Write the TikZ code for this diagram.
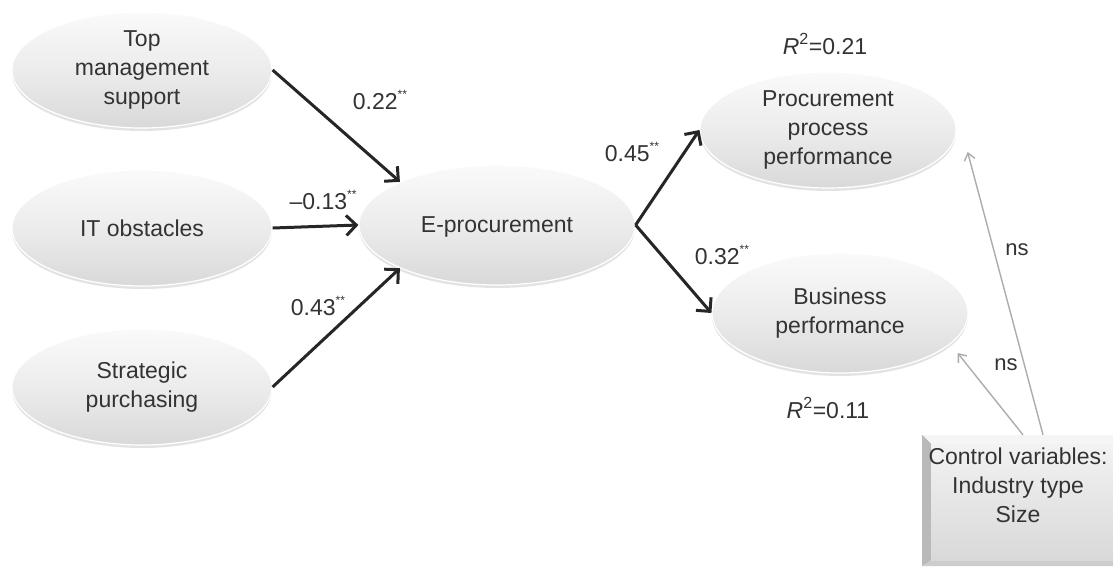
\documentclass[tikz,border=0pt]{standalone}
\usepackage{fontspec}
\setmainfont{Liberation Sans}
\usetikzlibrary{shapes.geometric,arrows.meta,calc,shadows}
\definecolor{txt}{HTML}{333333}
\newcommand{\stars}{\raisebox{0.5em}{\fontsize{12}{12}\selectfont **}}
\tikzset{
  oval/.style={ellipse, inner sep=0pt, align=center, text=txt,
    font=\fontsize{23}{29}\selectfont,
    top color=gray!4, bottom color=gray!30, middle color=gray!15,
    draw=white, line width=1.2pt,
    drop shadow={opacity=0.22, shadow xshift=0pt, shadow yshift=-3pt}},
  lab/.style={inner sep=0pt, text=txt, font=\fontsize{23}{28}\selectfont},
  main/.style={line width=3pt, black!85, -{Straight Barb[length=10pt,width=20pt]}},
  thin/.style={line width=1.4pt, gray!65, -{Straight Barb[length=7pt,width=11pt]}},
}
\begin{document}
\begin{tikzpicture}[x=1pt,y=-1pt]
\useasboundingbox (0,0) rectangle (1113,567);
\fill[white] (0,0) rectangle (1113,567);

% ellipses
\node[oval, minimum width=260pt, minimum height=116pt] (top) at (142,70) {Top\\management\\support};
\node[oval, minimum width=260pt, minimum height=116pt] (it) at (142,228) {IT obstacles};
\node[oval, minimum width=260pt, minimum height=116pt] (sp) at (142,387) {Strategic\\purchasing};
\node[oval, minimum width=276pt, minimum height=120pt, text depth=0pt] (ep) at (497,225) {E-procurement};
\node[oval, minimum width=256pt, minimum height=116pt] (ppp) at (828,130) {Procurement\\process\\performance};
\node[oval, minimum width=256pt, minimum height=120pt] (bp) at (840,313) {Business\\performance};

% control box
\node[rectangle, minimum width=204pt, minimum height=131pt, inner sep=0pt,
  path picture={
    \coordinate (nw) at (path picture bounding box.north west);
    \coordinate (ne) at (path picture bounding box.north east);
    \coordinate (sw) at (path picture bounding box.south west);
    \coordinate (se) at (path picture bounding box.south east);
    \fill[gray!45] (sw) rectangle (ne);
    \fill[gray!8] (nw) -- (ne) -- ([shift={(-9pt,-9pt)}]ne) -- ([shift={(9pt,-9pt)}]nw) -- cycle;
    \fill[gray!55] (nw) -- ([shift={(9pt,-9pt)}]nw) -- ([shift={(9pt,6pt)}]sw) -- (sw) -- cycle;
    \fill[gray!40] (sw) -- ([shift={(9pt,6pt)}]sw) -- ([shift={(-9pt,6pt)}]se) -- (se) -- cycle;
    \shade[top color=gray!10, bottom color=gray!30] ([shift={(9pt,-9pt)}]nw) rectangle ([shift={(-9pt,6pt)}]se);
  }] (ctrl) at (1024,500.5) {};
\node[lab, align=center, font=\fontsize{23}{29}\selectfont] (ctrltext) at (1018,485) {Control variables:\\Industry type\\Size};

\coordinate (c1) at ($(ctrl.north west)!0.495!(ctrl.north east)$);
\coordinate (c2) at ($(ctrl.north west)!0.593!(ctrl.north east)$);

% main arrows
\draw[main] (top.east) -- (ep.156);
\draw[main] (it.east) -- (ep.west);
\draw[main] (sp.east) -- (ep.204);
\draw[main] (ep.east) -- (ppp.west);
\draw[main] (ep.east) -- (bp.west);

% control arrows
\draw[thin] (c2) -- ([shift={(11,22)}]ppp.east);
\draw[thin] (c1) -- ([shift={(-11,40)}]bp.east);

% labels
\node[lab] (l22) at (380,100) {0.22\stars};
\node[lab] (l13) at (323,200) {–0.13\stars};
\node[lab] (l43) at (318,306) {0.43\stars};
\node[lab] (l45) at (632,152) {0.45\stars};
\node[lab] (l32) at (722,255) {0.32\stars};
\node[lab] (r21) at (825,44) {\textit{R}\textsuperscript{2}=0.21};
\node[lab] (r11) at (828,408) {\textit{R}\textsuperscript{2}=0.11};
\node[lab, font=\fontsize{22}{26}\selectfont] (ns1) at (1017,250) {ns};
\node[lab, font=\fontsize{22}{26}\selectfont] (ns2) at (1006,365) {ns};
\end{tikzpicture}
\end{document}
